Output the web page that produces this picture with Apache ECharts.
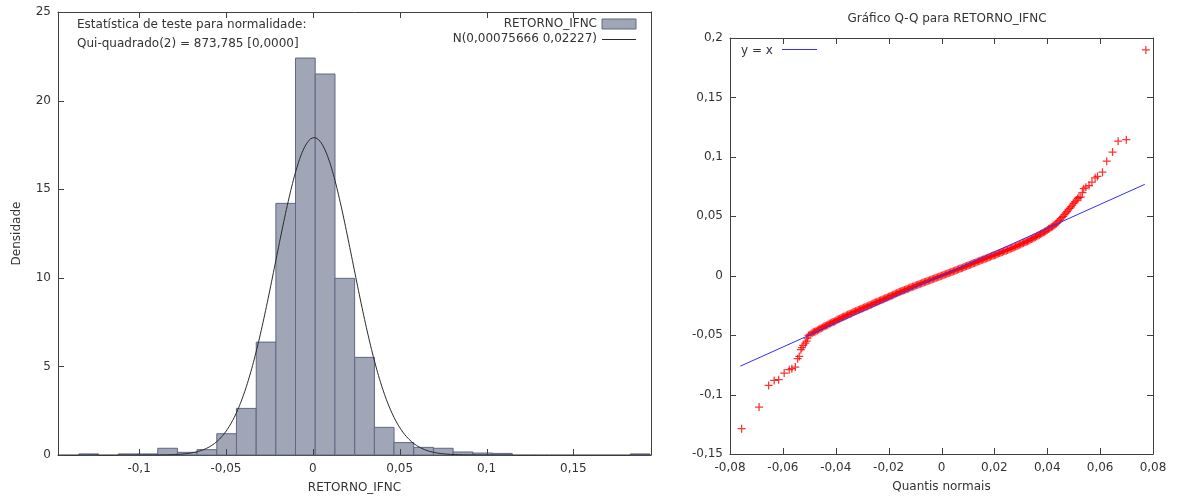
<!DOCTYPE html>
<html>
<head>
<meta charset="utf-8">
<script src="https://cdn.jsdelivr.net/npm/echarts@6/dist/echarts.min.js"></script>
<style>
  html, body { margin: 0; padding: 0; background: #fff; }
  #chart { width: 1180px; height: 501px; }
</style>
</head>
<body>
<div id="chart"></div>
<script>
// ---- Frequency distribution of RETORNO_IFNC ----
const binCenters = [
  -0.1290, -0.1177, -0.1063, -0.0950, -0.0836, -0.0723, -0.0610, -0.0496,
  -0.0383, -0.0269, -0.0156, -0.0043, 0.0071, 0.0184, 0.0298, 0.0411,
  0.0524, 0.0638, 0.0751, 0.0865, 0.0978, 0.1091, 0.1205, 0.1318,
  0.1432, 0.1545, 0.1658, 0.1772, 0.1885
];
const binWidth = 0.01134;
const densities = [
  0.06, 0, 0.06, 0.06, 0.38, 0.15, 0.30, 1.20,
  2.63, 6.37, 14.2, 22.4, 21.5, 9.97, 5.51, 1.56,
  0.70, 0.43, 0.38, 0.17, 0.11, 0.09, 0, 0,
  0, 0, 0, 0, 0.06
];
// fitted normal density parameters
const normalMean = 0.00075666;
const normalSd = 0.02227;
const chiSquareText = 'Qui-quadrado(2) = 873,785 [0,0000]';
const histXRange = [-0.1467, 0.1947];
const histYRange = [0, 25];
const histXTicks = [-0.1, -0.05, 0, 0.05, 0.1, 0.15];
const histYTicks = [0, 5, 10, 15, 20, 25];

// ---- Q-Q plot: [normal quantile, sample quantile] ----
const qqPoints = [
  [-0.0756, -0.1287], [-0.0690, -0.1105], [-0.0654, -0.0923], [-0.0633, -0.0881],
  [-0.0616, -0.0875], [-0.0595, -0.0819], [-0.0576, -0.0791], [-0.0566, -0.0782],
  [-0.0553, -0.0769], [-0.0544, -0.0698], [-0.0538, -0.0679], [-0.0532, -0.0622],
  [-0.0528, -0.0606], [-0.0523, -0.0586], [-0.0515, -0.0567], [-0.0510, -0.0550],
  [-0.0507, -0.0525], [-0.0503, -0.0502], [-0.0497, -0.0492],
  [-0.0490, -0.0484], [-0.0485, -0.0476], [-0.0480, -0.0472], [-0.0475, -0.0467],
  [-0.0470, -0.0460], [-0.0465, -0.0452], [-0.0460, -0.0447], [-0.0455, -0.0442],
  [-0.0450, -0.0435], [-0.0445, -0.0428], [-0.0440, -0.0423], [-0.0435, -0.0419],
  [-0.0430, -0.0412], [-0.0425, -0.0405], [-0.0420, -0.0400], [-0.0415, -0.0393],
  [-0.0410, -0.0389], [-0.0405, -0.0385], [-0.0400, -0.0378], [-0.0395, -0.0371],
  [-0.0390, -0.0367], [-0.0385, -0.0362], [-0.0380, -0.0356], [-0.0375, -0.0350],
  [-0.0370, -0.0346], [-0.0365, -0.0341], [-0.0360, -0.0335], [-0.0355, -0.0328],
  [-0.0350, -0.0325], [-0.0345, -0.0321], [-0.0340, -0.0315], [-0.0335, -0.0308],
  [-0.0330, -0.0304], [-0.0325, -0.0300], [-0.0320, -0.0295], [-0.0315, -0.0289],
  [-0.0310, -0.0285], [-0.0305, -0.0281], [-0.0300, -0.0275], [-0.0295, -0.0269],
  [-0.0290, -0.0265], [-0.0285, -0.0261], [-0.0280, -0.0256], [-0.0275, -0.0250],
  [-0.0270, -0.0246], [-0.0265, -0.0242], [-0.0260, -0.0236], [-0.0255, -0.0230],
  [-0.0250, -0.0226], [-0.0245, -0.0222], [-0.0240, -0.0217], [-0.0235, -0.0211],
  [-0.0230, -0.0207], [-0.0225, -0.0203], [-0.0220, -0.0197], [-0.0215, -0.0192],
  [-0.0210, -0.0188], [-0.0205, -0.0184], [-0.0200, -0.0178], [-0.0195, -0.0172],
  [-0.0190, -0.0168], [-0.0185, -0.0164], [-0.0180, -0.0158], [-0.0175, -0.0152],
  [-0.0170, -0.0148], [-0.0165, -0.0144], [-0.0160, -0.0138], [-0.0155, -0.0133],
  [-0.0150, -0.0129], [-0.0145, -0.0125], [-0.0140, -0.0120], [-0.0135, -0.0115],
  [-0.0130, -0.0111], [-0.0125, -0.0107], [-0.0120, -0.0102], [-0.0115, -0.0097],
  [-0.0110, -0.0093], [-0.0105, -0.0090], [-0.0100, -0.0085], [-0.0095, -0.0080],
  [-0.0090, -0.0076], [-0.0085, -0.0072], [-0.0080, -0.0067], [-0.0075, -0.0063],
  [-0.0070, -0.0059], [-0.0065, -0.0055], [-0.0060, -0.0050], [-0.0055, -0.0046],
  [-0.0050, -0.0042], [-0.0045, -0.0038], [-0.0040, -0.0034], [-0.0035, -0.0029],
  [-0.0030, -0.0025], [-0.0025, -0.0021], [-0.0020, -0.0017], [-0.0015, -0.0012],
  [-0.0010, -0.0008], [-0.0005, -0.0004], [0.0000, 0.0000], [0.0005, 0.0004],
  [0.0010, 0.0008], [0.0015, 0.0012], [0.0020, 0.0017], [0.0025, 0.0021],
  [0.0030, 0.0025], [0.0035, 0.0030], [0.0040, 0.0034], [0.0045, 0.0038],
  [0.0050, 0.0042], [0.0055, 0.0046], [0.0060, 0.0051], [0.0065, 0.0056],
  [0.0070, 0.0060], [0.0075, 0.0063], [0.0080, 0.0068], [0.0085, 0.0073],
  [0.0090, 0.0077], [0.0095, 0.0081], [0.0100, 0.0086], [0.0105, 0.0091],
  [0.0110, 0.0095], [0.0115, 0.0099], [0.0120, 0.0104], [0.0125, 0.0108],
  [0.0130, 0.0112], [0.0135, 0.0117], [0.0140, 0.0121], [0.0145, 0.0125],
  [0.0150, 0.0130], [0.0155, 0.0135], [0.0160, 0.0139], [0.0165, 0.0143],
  [0.0170, 0.0147], [0.0175, 0.0152], [0.0180, 0.0156], [0.0185, 0.0160],
  [0.0190, 0.0165], [0.0195, 0.0170], [0.0200, 0.0173], [0.0205, 0.0177],
  [0.0210, 0.0182], [0.0215, 0.0187], [0.0220, 0.0191], [0.0225, 0.0195],
  [0.0230, 0.0200], [0.0235, 0.0205], [0.0240, 0.0209], [0.0245, 0.0213],
  [0.0250, 0.0217], [0.0255, 0.0222], [0.0260, 0.0226], [0.0265, 0.0231],
  [0.0270, 0.0236], [0.0275, 0.0240], [0.0280, 0.0245], [0.0285, 0.0250],
  [0.0290, 0.0255], [0.0295, 0.0260], [0.0300, 0.0265], [0.0305, 0.0270],
  [0.0310, 0.0275], [0.0315, 0.0281], [0.0320, 0.0286], [0.0325, 0.0291],
  [0.0330, 0.0297], [0.0335, 0.0302], [0.0340, 0.0308], [0.0345, 0.0314],
  [0.0350, 0.0320], [0.0355, 0.0326], [0.0360, 0.0332], [0.0365, 0.0338],
  [0.0370, 0.0344], [0.0375, 0.0350], [0.0380, 0.0357], [0.0385, 0.0364],
  [0.0390, 0.0370], [0.0395, 0.0377], [0.0400, 0.0385], [0.0405, 0.0392],
  [0.0410, 0.0400], [0.0415, 0.0408], [0.0420, 0.0415], [0.0425, 0.0422],
  [0.0430, 0.0430], [0.0435, 0.0440], [0.0440, 0.0452], [0.0445, 0.0464],
  [0.0450, 0.0476], [0.0455, 0.0488], [0.0460, 0.0500], [0.0465, 0.0514],
  [0.0470, 0.0527], [0.0475, 0.0540], [0.0480, 0.0553], [0.0485, 0.0566],
  [0.0490, 0.0580], [0.0495, 0.0594], [0.0500, 0.0608], [0.0505, 0.0622],
  [0.0510, 0.0637], [0.0515, 0.0650], [0.0520, 0.0660],
  [0.0527, 0.0661], [0.0533, 0.0700], [0.0538, 0.0732], [0.0546, 0.0745],
  [0.0558, 0.0759], [0.0569, 0.0787], [0.0581, 0.0824], [0.0590, 0.0835],
  [0.0609, 0.0871], [0.0625, 0.0964], [0.0647, 0.1040], [0.0668, 0.1132],
  [0.0699, 0.1144], [0.0773, 0.1900]
];
// ends of the y = x reference line
const identityRange = [-0.0761, 0.0769];
const qqXRange = [-0.08, 0.08];
const qqYRange = [-0.15, 0.2];
const qqXTicks = [-0.08, -0.06, -0.04, -0.02, 0, 0.02, 0.04, 0.06, 0.08];
const qqYTicks = [-0.15, -0.1, -0.05, 0, 0.05, 0.1, 0.15, 0.2];

// ---- drawing ----
const FONT = 'DejaVu Sans';
const FS = 12;
const TEXT = '#333333';
const AXIS = '#404040';
const BAR_FILL = '#a0a6b6';
const BAR_EDGE = '#5f6882';
const CURVE = '#2a2a2a';
const BLUE = '#3030ff';
const TICK_LEN = 6;
const CSS_FONT = FS + 'px "' + FONT + '"';

const comma = v => String(+Number(v).toFixed(8)).replace('.', ',');

// fitted normal density evaluated across the histogram's x range
const normalCurve = [];
for (let x = histXRange[0]; x <= histXRange[1]; x += 0.0005) {
  const z = (x - normalMean) / normalSd;
  normalCurve.push([x, Math.exp(-0.5 * z * z) / (normalSd * Math.sqrt(2 * Math.PI))]);
}

function frameAxis(extra) {
  return Object.assign({
    type: 'value',
    axisLine: { show: true, onZero: false, lineStyle: { color: AXIS, width: 1 } },
    splitLine: { show: false },
    axisLabel: { show: false },
    axisTick: { show: false }
  }, extra);
}
function labelSet(values, margin) {
  return { show: true, customValues: values, formatter: v => comma(v),
           color: TEXT, fontFamily: FONT, fontSize: FS, margin: margin };
}
const nameStyle = { color: TEXT, fontFamily: FONT, fontSize: FS };

// inward tick marks on the plot frame (x ticks mirrored top, y ticks optionally mirrored right)
function tickSeries(axisIndex, xTicks, yTicks, xr, yr, mirrorY) {
  const data = xTicks.map(v => [0, v]).concat(yTicks.map(v => [1, v]));
  const px = v => Math.round(v) + 0.5;
  const seg = (x1, y1, x2, y2) => ({ type: 'line', shape: { x1, y1, x2, y2 },
    style: { stroke: AXIS, lineWidth: 1 } });
  return {
    type: 'custom', xAxisIndex: axisIndex, yAxisIndex: axisIndex,
    silent: true, clip: false, z: 6,
    data: data,
    renderItem: function (params, api) {
      const item = data[params.dataIndex];
      const v = item[1];
      const children = [];
      if (item[0] === 0) {
        const b = api.coord([v, yr[0]]), t = api.coord([v, yr[1]]);
        const x = px(b[0]);
        children.push(seg(x, b[1], x, b[1] - TICK_LEN));
        children.push(seg(x, t[1], x, t[1] + TICK_LEN));
      } else {
        const l = api.coord([xr[0], v]), r = api.coord([xr[1], v]);
        const y = px(l[1]);
        children.push(seg(l[0], y, l[0] + TICK_LEN, y));
        if (mirrorY) children.push(seg(r[0], y, r[0] - TICK_LEN, y));
      }
      return { type: 'group', children: children };
    }
  };
}

const chart = echarts.init(document.getElementById('chart'), null, { renderer: 'canvas' });

chart.setOption({
  animation: false,
  backgroundColor: '#ffffff',
  title: {
    text: 'Gráfico Q-Q para RETORNO_IFNC',
    left: 942, top: 8, textAlign: 'center',
    textStyle: { color: TEXT, fontFamily: FONT, fontSize: FS, fontWeight: 'normal' }
  },
  grid: [
    { left: 58, top: 12, width: 593, height: 443 },
    { left: 730, top: 38, width: 423, height: 416 }
  ],
  xAxis: [
    frameAxis({ gridIndex: 0, position: 'bottom', min: histXRange[0], max: histXRange[1],
      axisLabel: labelSet(histXTicks, 8),
      name: 'RETORNO_IFNC', nameLocation: 'middle', nameGap: 27, nameTextStyle: nameStyle }),
    frameAxis({ gridIndex: 0, position: 'top', min: histXRange[0], max: histXRange[1] }),
    frameAxis({ gridIndex: 1, position: 'bottom', min: qqXRange[0], max: qqXRange[1],
      axisLabel: labelSet(qqXTicks, 8),
      name: 'Quantis normais', nameLocation: 'middle', nameGap: 27, nameTextStyle: nameStyle }),
    frameAxis({ gridIndex: 1, position: 'top', min: qqXRange[0], max: qqXRange[1] })
  ],
  yAxis: [
    frameAxis({ gridIndex: 0, position: 'left', min: histYRange[0], max: histYRange[1],
      axisLabel: labelSet(histYTicks, 7),
      name: 'Densidade', nameLocation: 'middle', nameGap: 35, nameTextStyle: nameStyle }),
    frameAxis({ gridIndex: 0, position: 'right', min: histYRange[0], max: histYRange[1] }),
    frameAxis({ gridIndex: 1, position: 'left', min: qqYRange[0], max: qqYRange[1],
      axisLabel: labelSet(qqYTicks, 7) }),
    frameAxis({ gridIndex: 1, position: 'right', min: qqYRange[0], max: qqYRange[1] })
  ],
  series: [
    {
      name: 'RETORNO_IFNC',
      type: 'custom',
      xAxisIndex: 0, yAxisIndex: 0,
      data: binCenters.map((c, i) => [c, densities[i]]),
      renderItem: function (params, api) {
        const c = api.value(0), h = api.value(1);
        if (!(h > 0)) return null;
        const a = api.coord([c - binWidth / 2, h]);
        const b = api.coord([c + binWidth / 2, 0]);
        return {
          type: 'rect',
          shape: { x: a[0], y: a[1], width: b[0] - a[0], height: b[1] - a[1] },
          style: { fill: BAR_FILL, stroke: BAR_EDGE, lineWidth: 1 }
        };
      },
      silent: true
    },
    {
      name: 'N',
      type: 'line',
      xAxisIndex: 0, yAxisIndex: 0,
      data: normalCurve,
      showSymbol: false,
      lineStyle: { color: CURVE, width: 1 },
      silent: true,
      z: 5
    },
    tickSeries(0, histXTicks, histYTicks, histXRange, histYRange, false),
    {
      name: 'qq',
      type: 'scatter',
      xAxisIndex: 2, yAxisIndex: 2,
      data: qqPoints,
      symbol: 'path://M5,0L5,10M0,5L10,5',
      symbolSize: 8,
      itemStyle: { color: 'none', borderColor: '#ff0000', borderWidth: 1.25 },
      silent: true,
      z: 3
    },
    {
      name: 'y = x',
      type: 'line',
      xAxisIndex: 2, yAxisIndex: 2,
      data: identityRange.map(v => [v, v]),
      showSymbol: false,
      lineStyle: { color: BLUE, width: 1 },
      silent: true,
      z: 4
    },
    tickSeries(2, qqXTicks, qqYTicks, qqXRange, qqYRange, true)
  ],
  graphic: [
    { type: 'text', left: 77, top: 19,
      style: { text: 'Estatística de teste para normalidade:', fill: TEXT, font: CSS_FONT } },
    { type: 'text', left: 77, top: 38,
      style: { text: chiSquareText, fill: TEXT, font: CSS_FONT } },
    { type: 'text', right: 1180 - 597, top: 18,
      style: { text: 'RETORNO_IFNC', fill: TEXT, font: CSS_FONT } },
    { type: 'rect', shape: { x: 602, y: 19, width: 34, height: 10 },
      style: { fill: BAR_FILL, stroke: BAR_EDGE, lineWidth: 1 } },
    { type: 'text', right: 1180 - 597, top: 33,
      style: { text: 'N(' + comma(normalMean) + ' ' + comma(normalSd) + ')', fill: TEXT, font: CSS_FONT } },
    { type: 'line', shape: { x1: 602, y1: 39.5, x2: 636, y2: 39.5 },
      style: { stroke: CURVE, lineWidth: 1 } },
    { type: 'text', left: 741, top: 45,
      style: { text: 'y = x', fill: TEXT, font: CSS_FONT } },
    { type: 'line', shape: { x1: 782, y1: 49.5, x2: 817, y2: 49.5 },
      style: { stroke: BLUE, lineWidth: 1 } }
  ]
});
</script>
</body>
</html>
